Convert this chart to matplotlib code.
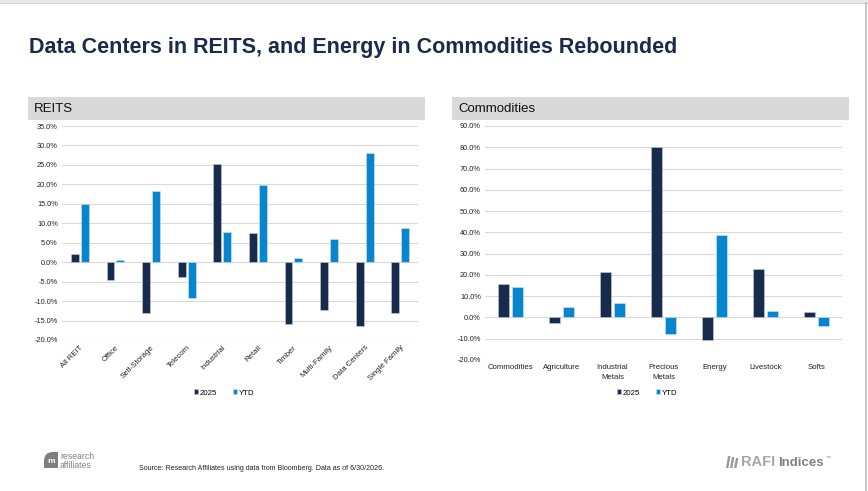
import matplotlib.pyplot as plt
import numpy as np
from matplotlib.patches import Rectangle, PathPatch, Polygon
from matplotlib.path import Path

plt.rcParams['font.family'] = ['Liberation Sans', 'DejaVu Sans']

# REITS returns (%)
reit_cats = ['All REIT', 'Office', 'Self-Storage', 'Telecom', 'Industrial', 'Retail',
             'Timber', 'Multi-Family', 'Data Centers', 'Single Family']
reit_2025 = [2.2, -4.7, -13.1, -3.8, 25.2, 7.5, -15.8, -12.3, -16.4, -13.1]
reit_ytd = [14.9, 0.6, 18.2, -9.2, 7.8, 19.8, 1.1, 6.0, 28.1, 8.7]

# Commodities returns (%)
comm_cats = ['Commodities', 'Agriculture', 'Industrial\nMetals', 'Precious\nMetals',
             'Energy', 'Livestock', 'Softs']
comm_2025 = [15.7, -2.5, 21.4, 80.2, -10.5, 22.8, 2.7]
comm_ytd = [14.3, 4.7, 6.6, -7.7, 38.8, 2.8, -3.8]

NAVY = '#172B4D'
BLUE = '#0785CF'
GRID = '#D9D9D9'
W, H = 868, 491


def px(x, y, w, h):
    # pixel box (top-left origin) -> figure fraction
    return [x / W, 1 - (y + h) / H, w / W, h / H]


def draw_panel(fig, box, cats, v1, v2, ylim, step, rot):
    ax = fig.add_axes(box)
    x = np.arange(len(cats))
    bw = 0.22
    b1 = ax.bar(x - 0.14, v1, bw, color=NAVY, edgecolor='#C8CDD6', linewidth=0.4, label='2025', zorder=3)
    b2 = ax.bar(x + 0.14, v2, bw, color=BLUE, edgecolor='#D6E6F2', linewidth=0.4, label='YTD', zorder=3)
    ax.set_xlim(-0.5, len(cats) - 0.5)
    ax.set_ylim(*ylim)
    ticks = np.arange(ylim[0], ylim[1] + 0.1, step)
    ax.set_yticks(ticks)
    ax.set_yticklabels([f'{t:.1f}%' for t in ticks], fontsize=5.3, color='#222222')
    ax.set_xticks(x)
    if rot:
        ax.set_xticklabels(cats, rotation=45, ha='right', rotation_mode='anchor', fontsize=5.6, color='#222222')
    else:
        ax.set_xticklabels(cats, fontsize=5.6, color='#222222', linespacing=1.5)
    ax.tick_params(length=0, pad=3)
    ax.grid(axis='y', color=GRID, linewidth=0.8, zorder=0)
    for s in ax.spines.values():
        s.set_visible(False)
    return ax, b1, b2


fig = plt.figure(figsize=(W / 100, H / 100), dpi=100)

# overlay in pixel coordinates for slide decorations
deco = fig.add_axes([0, 0, 1, 1], zorder=-1)
deco.set_xlim(0, W)
deco.set_ylim(H, 0)
deco.axis('off')
deco.add_patch(Rectangle((0, 0), W, 3, color='#EAEAEA', lw=0))
deco.plot([0, W], [3, 3], color='#D4D4D4', lw=0.8)
deco.plot([866, 866], [3, H], color='#BDBDBD', lw=1.2)

# panel header bars
for bx, label in [(28, 'REITS'), (452, 'Commodities')]:
    deco.add_patch(Rectangle((bx, 97), 397, 23, color='#D9D9D9', lw=0))
    deco.text(bx + 6, 108.5, label, fontsize=9.5, color='#111111', va='center')

fig.text(29 / W, 1 - 53 / H, 'Data Centers in REITS, and Energy in Commodities Rebounded',
         fontsize=15.5, fontweight='bold', color='#1B2A4A', va='baseline')

ax1, a1, a2 = draw_panel(fig, px(62, 126, 356, 214), reit_cats, reit_2025, reit_ytd, (-20, 35), 5, True)
ax2, c1, c2 = draw_panel(fig, px(485, 126, 357, 234), comm_cats, comm_2025, comm_ytd, (-20, 90), 10, False)

for cx, handles in [(224, (a1, a2)), (647, (c1, c2))]:
    fig.legend(handles, ['2025', 'YTD'], loc='center', bbox_to_anchor=(cx / W, 1 - 393 / H),
               ncol=2, frameon=False, fontsize=5.6, handlelength=0.6, handleheight=0.6,
               handletextpad=0.2, columnspacing=2.0)

# source note
fig.text(139 / W, 1 - 468 / H, 'Source: Research Affiliates using data from Bloomberg. Data as of 6/30/2026.',
         fontsize=5.1, color='#222222', va='center')

# research affiliates logo
icon = Path([(44, 468), (44, 461), (44, 452), (53, 452), (58, 452), (58, 468), (44, 468)],
            [Path.MOVETO, Path.LINETO, Path.CURVE3, Path.CURVE3, Path.LINETO, Path.LINETO, Path.CLOSEPOLY])
deco.add_patch(PathPatch(icon, color='#7F7F7F', lw=0))
deco.text(51.5, 461.5, 'm', fontsize=6, fontweight='bold', color='white', ha='center', va='center')
deco.text(60, 459, 'research', fontsize=6.2, color='#808080', va='baseline')
deco.text(60, 468, 'affiliates', fontsize=6.2, color='#808080', va='baseline')

# RAFI Indices logo
for i in range(3):
    x0 = 726 + i * 4
    deco.add_patch(Polygon([(x0, 468), (x0 + 2.4, 468), (x0 + 4.4, 456 + i), (x0 + 2, 456 + i)],
                           color='#9A9A9A', lw=0))
deco.text(741, 466, 'RAFI', fontsize=10.5, fontweight='bold', color='#A6A6A6', va='baseline')
deco.text(778.5, 466, 'Indices', fontsize=9.5, fontweight='bold', color='#808080', va='baseline')
deco.text(826, 456.5, '™', fontsize=3.5, color='#808080', va='center')

fig.savefig('out.png', dpi=100)
